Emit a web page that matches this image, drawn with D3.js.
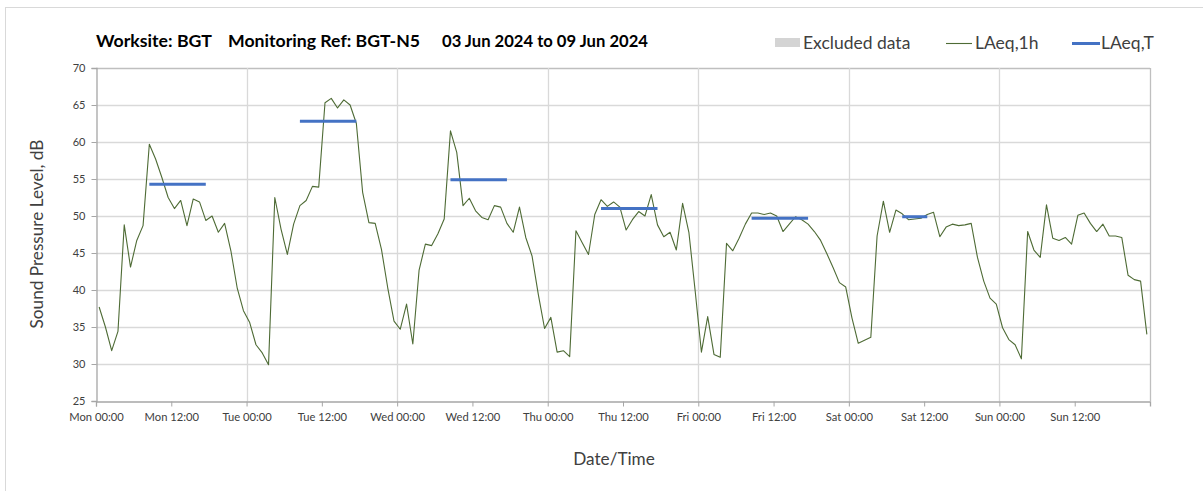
<!DOCTYPE html>
<html><head><meta charset="utf-8">
<script src="https://cdn.jsdelivr.net/npm/d3@7"></script>
<style>body{margin:0;background:#fff;} svg{display:block;}</style>
</head><body>
<svg id="chart" width="1203" height="491"></svg>
<script>
// ---- data ----
const dayLabels = ["Mon","Tue","Wed","Thu","Fri","Sat","Sun"];
const tickHours = [0,12,24,36,48,60,72,84,96,108,120,132,144,156];
const yTicks = [25,30,35,40,45,50,55,60,65,70];
// hourly LAeq,1h from Mon 00:00 (hour index 0..167)
const laeq1h = [
 37.7,35.0,31.8,34.4,48.8,43.1,46.7,48.7,59.7,57.7,55.2,52.5,51.0,52.1,48.7,52.3,51.9,49.4,50.0,47.8,49.0,45.3,40.3,37.2,
 35.6,32.6,31.5,29.9,52.5,48.2,44.8,48.9,51.4,52.1,54.0,53.9,65.3,65.9,64.6,65.7,65.0,62.5,53.2,49.1,49.0,45.5,40.3,35.8,
 34.7,38.1,32.7,42.7,46.2,46.0,47.6,49.6,61.5,58.6,51.4,52.4,50.7,49.8,49.5,51.4,51.2,49.0,47.8,51.2,47.1,44.6,39.4,34.8,
 36.3,31.6,31.8,31.0,48.0,46.4,44.8,50.2,52.2,51.3,51.9,51.2,48.1,49.5,50.6,50.0,52.9,48.8,47.2,47.8,45.4,51.7,47.8,39.9,
 31.6,36.4,31.3,30.9,46.3,45.3,47.0,48.9,50.4,50.4,50.2,50.4,50.0,47.9,48.9,49.9,49.5,48.9,47.9,46.7,44.9,43.0,41.0,40.4,
 36.2,32.8,33.2,33.6,47.3,52.0,47.8,50.8,50.3,49.5,49.6,49.7,50.2,50.5,47.2,48.5,48.9,48.7,48.8,49.0,44.4,41.2,38.9,38.1,
 34.9,33.3,32.6,30.7,47.9,45.4,44.4,51.5,47.0,46.7,47.1,46.2,50.1,50.4,49.0,47.9,48.9,47.3,47.3,47.1,42.0,41.4,41.2,34.0
];
// LAeq,T daytime periods (hour index start/end, value)
const periodStart = [8,32,56,80,104,128];
const periodEnd   = [17,41,65,89,113,132];
const laeqT       = [54.3,62.8,54.9,51.0,49.7,49.9];

const titleParts = ["Worksite: BGT","Monitoring Ref: BGT-N5","03 Jun 2024 to 09 Jun 2024"];
const legendItems = ["Excluded data","LAeq,1h","LAeq,T"];

// ---- layout ----
const svg = d3.select("#chart");
const L = 96, R = 1150, T = 68, B = 401;
const x = d3.scaleLinear().domain([0,168]).range([L,R]);
const y = d3.scaleLinear().domain([25,70]).range([B,T]);
const FONT = "Lato, 'Open Sans', sans-serif";

// outer frame
svg.append("rect").attr("x",5.5).attr("y",7.5).attr("width",1300).attr("height",600)
  .attr("fill","none").attr("stroke","#d9d9d9");

// gridlines horizontal
svg.append("g").selectAll("line").data(yTicks.slice(1)).join("line")
  .attr("x1",L).attr("x2",R).attr("y1",d=>Math.round(y(d))+0.5).attr("y2",d=>Math.round(y(d))+0.5)
  .attr("stroke",d=>d===70?"#bfbfbf":"#d9d9d9").attr("stroke-width",1.3);
// gridlines vertical (days)
svg.append("g").selectAll("line").data(d3.range(24,169,24)).join("line")
  .attr("x1",d=>Math.round(x(d))+0.5).attr("x2",d=>Math.round(x(d))+0.5).attr("y1",T).attr("y2",B)
  .attr("stroke",d=>d===168?"#bfbfbf":"#d9d9d9").attr("stroke-width",1.3);

// y axis
const yAxis = d3.axisLeft(y).tickValues(yTicks).tickSize(5).tickPadding(6).tickFormat(d3.format("d"));
const gy = svg.append("g").attr("transform",`translate(${L+0.5},0)`).call(yAxis);
gy.select(".domain").attr("stroke","#a6a6a6").attr("stroke-width",1.3);
gy.selectAll(".tick line").attr("stroke","#a6a6a6");
gy.selectAll("text").attr("font-family",FONT).attr("font-size",11).attr("fill","#404040");

// x axis
const xAxis = d3.axisBottom(x).tickValues(tickHours).tickSize(5).tickPadding(7)
  .tickFormat(h => dayLabels[Math.floor(h/24)] + (h%24===0 ? " 00:00" : " 12:00"));
const gx = svg.append("g").attr("transform",`translate(0,${B+0.5})`).call(xAxis);
gx.select(".domain").attr("stroke","#a6a6a6").attr("stroke-width",1.3);
gx.selectAll(".tick line").attr("stroke","#a6a6a6");
gx.selectAll("text").attr("font-family",FONT).attr("font-size",11.2).attr("fill","#404040");

// LAeq,1h line
const line = d3.line().x((d,i)=>x(i+0.5)).y(d=>y(d));
svg.append("path").datum(laeq1h).attr("d",line).attr("fill","none")
  .attr("stroke","#4e6b35").attr("stroke-width",1.1).attr("stroke-linejoin","round");

// LAeq,T segments
svg.append("g").selectAll("line").data(laeqT).join("line")
  .attr("x1",(d,i)=>x(periodStart[i]+0.5)).attr("x2",(d,i)=>x(periodEnd[i]+0.5))
  .attr("y1",d=>y(d)).attr("y2",d=>y(d))
  .attr("stroke","#4472c4").attr("stroke-width",3);

// title
const tx = [96,228,442];
const tw = [116,192,206];
svg.append("g").selectAll("text").data(titleParts).join("text")
  .attr("x",(d,i)=>tx[i]).attr("y",47).text(d=>d)
  .attr("textLength",(d,i)=>tw[i]).attr("lengthAdjust","spacingAndGlyphs")
  .attr("font-family",FONT).attr("font-weight","bold").attr("font-size",17).attr("fill","#000");

// legend
const lg = svg.append("g").attr("font-family",FONT).attr("font-size",17.5).attr("fill","#404040");
lg.append("rect").attr("x",775).attr("y",38).attr("width",25).attr("height",9).attr("fill","#d4d4d4");
lg.append("text").attr("x",803).attr("y",49).text(legendItems[0]);
lg.append("line").attr("x1",946).attr("x2",972).attr("y1",43.5).attr("y2",43.5).attr("stroke","#4e6b35").attr("stroke-width",1.1);
lg.append("text").attr("x",975).attr("y",49).text(legendItems[1]);
lg.append("line").attr("x1",1072).attr("x2",1100).attr("y1",43.5).attr("y2",43.5).attr("stroke","#4472c4").attr("stroke-width",3);
lg.append("text").attr("x",1101).attr("y",49).text(legendItems[2]);

// axis titles
svg.append("text").attr("transform","translate(43,234) rotate(-90)").attr("text-anchor","middle")
  .attr("font-family",FONT).attr("font-size",17.2).attr("fill","#404040").text("Sound Pressure Level, dB");
svg.append("text").attr("x",614).attr("y",465).attr("text-anchor","middle")
  .attr("font-family",FONT).attr("font-size",17.2).attr("fill","#404040").text("Date/Time");
</script>
</body></html>
